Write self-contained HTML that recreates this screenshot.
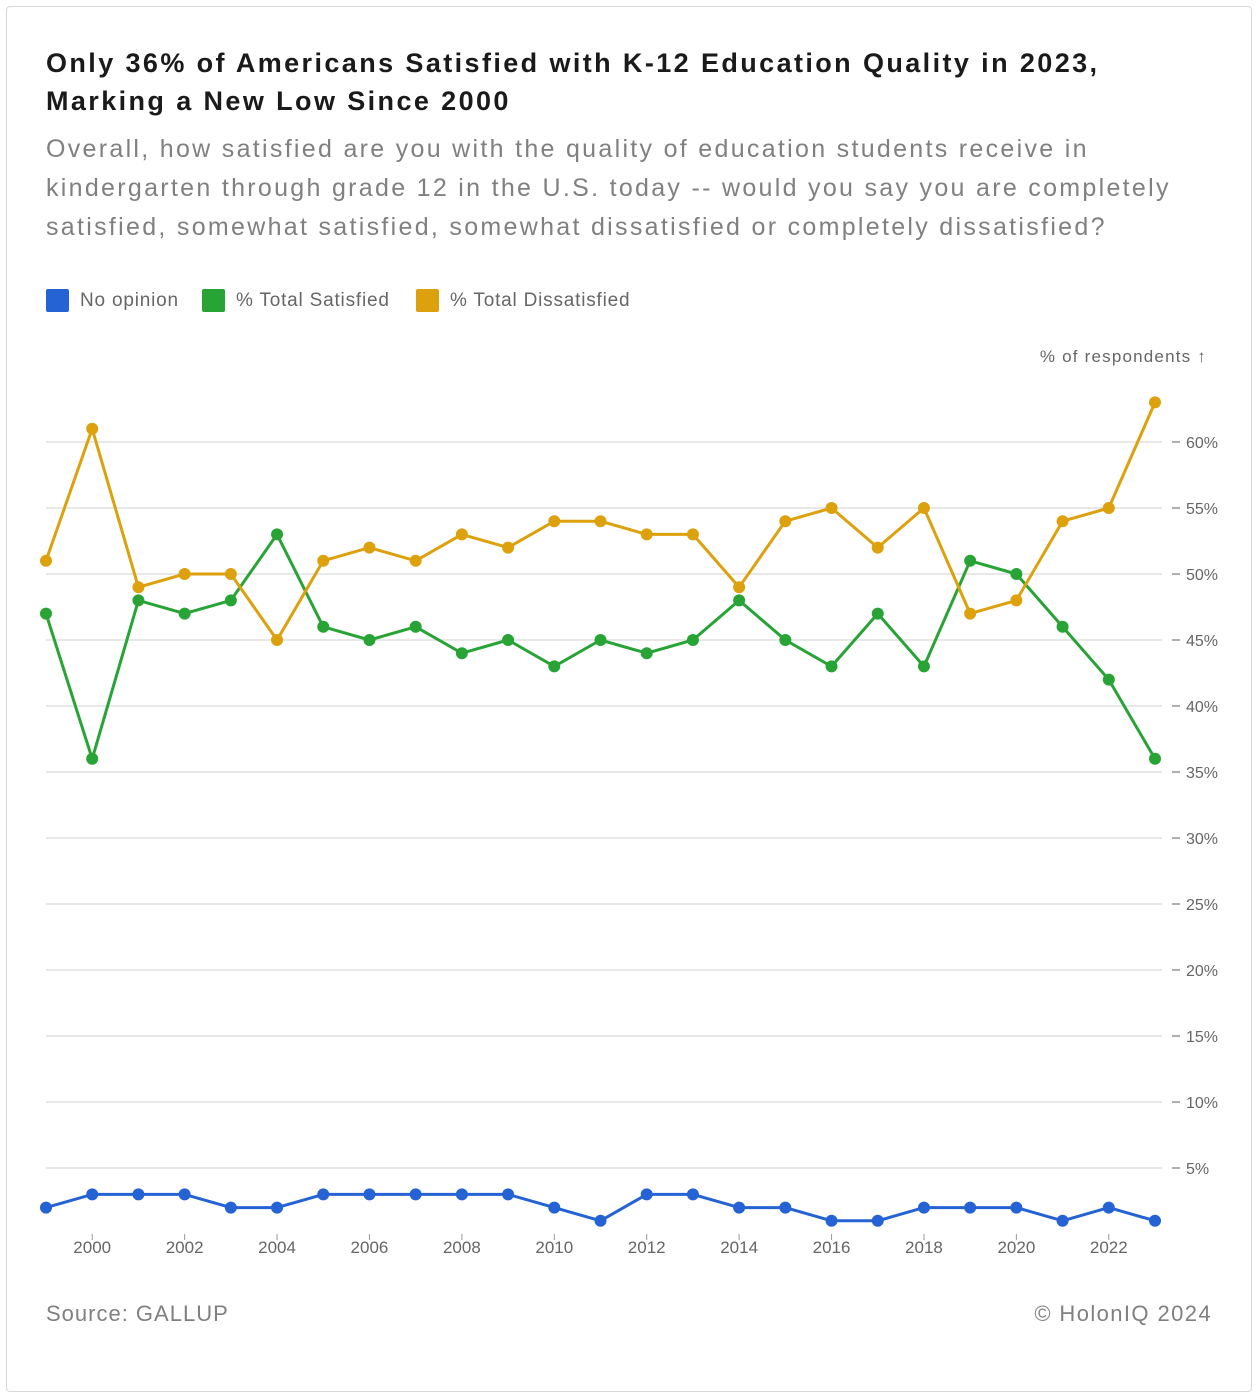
<!DOCTYPE html>
<html><head><meta charset="utf-8"><style>
body{margin:0;background:#fff;font-family:"Liberation Sans",Arial,sans-serif;}
#card{position:absolute;left:6px;top:6px;width:1246px;height:1386px;border:1px solid #d8d8d8;border-radius:4px;box-sizing:border-box;}
h1{position:absolute;left:46px;top:44px;margin:0;font-size:27px;line-height:38px;font-weight:bold;color:#1a1a1a;white-space:nowrap;letter-spacing:2.4px;}
#sub{position:absolute;left:46px;top:130px;font-size:25px;line-height:39px;color:#808080;white-space:nowrap;letter-spacing:2.3px;}
.leg{position:absolute;top:289px;font-size:19px;color:#666;display:flex;align-items:center;letter-spacing:0.8px;}
.sw{width:23px;height:23px;border-radius:2px;margin-right:11px;display:inline-block;}
#foot-l{position:absolute;left:46px;top:1301px;font-size:22px;color:#808080;letter-spacing:1px;}
#foot-r{position:absolute;right:48px;top:1301px;font-size:22px;color:#808080;letter-spacing:1.4px;}
svg{position:absolute;left:0;top:0;}
</style></head><body>
<div id="card"></div>
<h1>Only 36% of Americans Satisfied with K-12 Education Quality in 2023,<br>Marking a New Low Since 2000</h1>
<div id="sub">Overall, how satisfied are you with the quality of education students receive in<br>kindergarten through grade 12 in the U.S. today -- would you say you are completely<br>satisfied, somewhat satisfied, somewhat dissatisfied or completely dissatisfied?</div>
<div class="leg" style="left:46px"><span class="sw" style="background:#2563d4"></span>No opinion</div>
<div class="leg" style="left:202px"><span class="sw" style="background:#28a436"></span>% Total Satisfied</div>
<div class="leg" style="left:416px"><span class="sw" style="background:#dca10d"></span>% Total Dissatisfied</div>
<svg id="chart" width="1260" height="1400"></svg>
<div id="foot-l">Source: GALLUP</div>
<div id="foot-r">© HolonIQ 2024</div>
<script>
const years=[1999,2000,2001,2002,2003,2004,2005,2006,2007,2008,2009,2010,2011,2012,2013,2014,2015,2016,2017,2018,2019,2020,2021,2022,2023];
const dissatisfied=[51,61,49,50,50,45,51,52,51,53,52,54,54,53,53,49,54,55,52,55,47,48,54,55,63];
const satisfied=[47,36,48,47,48,53,46,45,46,44,45,43,45,44,45,48,45,43,47,43,51,50,46,42,36];
const noOpinion=[2,3,3,3,2,2,3,3,3,3,3,2,1,3,3,2,2,1,1,2,2,2,1,2,1];
const yTicks=[5,10,15,20,25,30,35,40,45,50,55,60];
const xTicks=[2000,2002,2004,2006,2008,2010,2012,2014,2016,2018,2020,2022];
const NS='http://www.w3.org/2000/svg';
const svg=document.getElementById('chart');
const x=v=>46+(v-1999)*(1155-46)/24;
const y=v=>1234-v*13.2;
function mk(t,a){const e=document.createElementNS(NS,t);for(const k in a)e.setAttribute(k,a[k]);svg.appendChild(e);return e;}
yTicks.forEach(t=>{
 const g=mk('line',{x1:46,x2:1162,y1:y(t),y2:y(t),stroke:'#e8e8e8','stroke-width':2});
 
 
 mk('line',{x1:1172,x2:1180,y1:y(t),y2:y(t),stroke:'#777','stroke-width':1.2});
 const l=mk('text',{x:1186,y:y(t)+6,'font-size':16,fill:'#666','text-anchor':'start'});
 l.textContent=t+'%';
 
 
});
const at=mk('text',{x:1207,y:362,'font-size':17,fill:'#666','text-anchor':'end','letter-spacing':'1.2'});
at.textContent='% of respondents ↑';


xTicks.forEach(t=>{
 mk('line',{x1:x(t),x2:x(t),y1:1234,y2:1240,stroke:'#999','stroke-width':1});
 const l=mk('text',{x:x(t),y:1253,'font-size':17,fill:'#666','text-anchor':'middle'});
 l.textContent=t;
 
 
});
function series(vals,color,name){
 const p=mk('polyline',{points:vals.map((v,i)=>x(years[i])+','+y(v)).join(' '),fill:'none',stroke:color,'stroke-width':3,'stroke-linejoin':'round'});
 
 
 vals.forEach((v,i)=>{
  const c=mk('circle',{cx:x(years[i]),cy:y(v),r:6,fill:color});
  
  
 });
}
series(noOpinion,'#2563d4','no-opinion');
series(satisfied,'#28a436','satisfied');
series(dissatisfied,'#dca10d','dissatisfied');
</script>
</body></html>
